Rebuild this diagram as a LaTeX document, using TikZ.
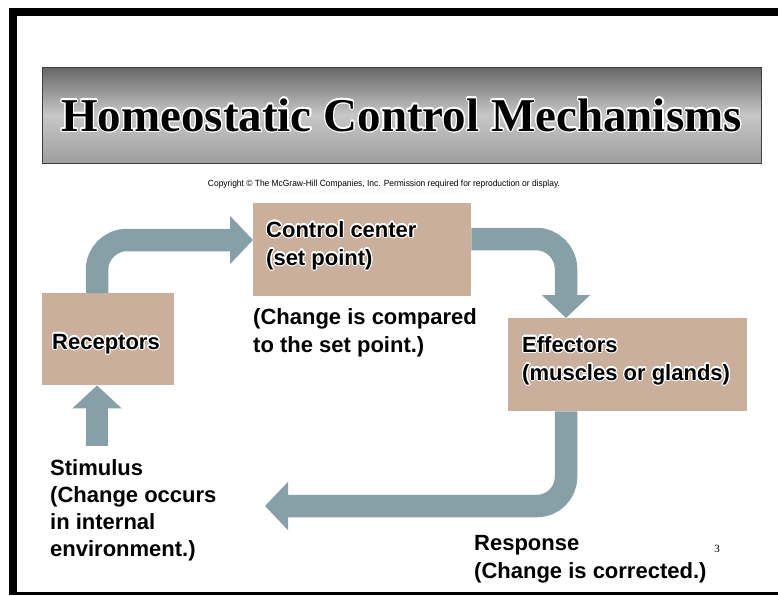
\documentclass[tikz,border=0pt]{standalone}
\usepackage{fontspec}
\setmainfont{Liberation Sans}
\newfontfamily\titlefont{Liberation Serif}
\usepackage{contour}
\contourlength{1.1pt}
\contournumber{24}
\usetikzlibrary{arrows.meta,calc}
\definecolor{boxtan}{HTML}{C9AF9C}
\definecolor{flowc}{HTML}{87A0A8}
\newcommand\mylines[1]{\begin{tabular}[t]{@{}l@{}}#1\end{tabular}}
\tikzset{
  box/.style={fill=boxtan, draw=none, inner sep=0pt, anchor=north west},
  flow/.style={draw=flowc, line width=22.5pt, -{Triangle[length=23pt,width=47pt]}},
  lbl/.style={inner sep=0pt, anchor=base west, font=\bfseries\fontsize{22}{28}\selectfont},
  lblb/.style={inner sep=0pt, anchor=base west, font=\bfseries\fontsize{22}{27}\selectfont},
}
\begin{document}
\begin{tikzpicture}[x=1pt,y=-1pt]
\useasboundingbox (0,0) rectangle (778,595);
\fill[white] (0,0) rectangle (778,595);
% frame
\fill[black] (9,8) rectangle (778,16);
\fill[black] (9,8) rectangle (17,595);
\fill[black] (9,592) rectangle (778,595);
% banner
\node[draw=black!75, line width=0.8pt, inner sep=0pt, minimum width=719pt, minimum height=96pt,
      top color=black!60, bottom color=black!38, middle color=black!22] (banner) at (401.5,115) {};
\node[anchor=base, inner sep=0pt, font=\titlefont\bfseries\fontsize{47}{50}\selectfont] (title) at (401.5,131)
  {\contour{white}{Homeostatic Control Mechanisms}};
% copyright
\node[anchor=center, inner sep=0pt] (copy) at (384,184)
  {\resizebox{352pt}{6.5pt}{Copyright \textcopyright\ The McGraw-Hill Companies, Inc. Permission required for reproduction or display.}};
% boxes
\node[box, minimum width=218pt, minimum height=93pt] (ctrl) at (253,203) {};
\node[box, minimum width=132pt, minimum height=92pt] (rec) at (42,293) {};
\node[box, minimum width=239pt, minimum height=93pt] (eff) at (508,318) {};
% connectors
\coordinate (stim) at (97,446);
\coordinate (back) at (265,506);
\draw[flow, rounded corners=30pt] ($(rec.north west)+(55,0)$) |- ($(ctrl.north west)+(0,37)$);
\draw[flow, rounded corners=30pt] ($(ctrl.north east)+(0,36)$) -| ($(eff.north west)+(58,0)$);
\draw[flow, rounded corners=29pt] ($(eff.south west)+(58,0)$) |- (back);
\draw[flow, -{Triangle[length=23pt,width=48pt]}] (stim) -- (rec.south -| stim);
% texts
\node[lbl] (ctrltext) at (266,237) {\contour{white}{\mylines{Control center\\(set point)}}};
\node[lbl] (rectext) at (52,349) {\contour{white}{Receptors}};
\node[lbl] (efftext) at (522,352) {\contour{white}{\mylines{Effectors\\(muscles or glands)}}};
\node[lbl] (cmptext) at (253,324) {\mylines{(Change is compared\\to the set point.)}};
\node[lblb] (stimtext) at (50,475) {\mylines{Stimulus\\(Change occurs\\in internal\\environment.)}};
\node[lbl] (resptext) at (474,550) {\mylines{Response\\(Change is corrected.)}};
\node[anchor=base, inner sep=0pt, font=\titlefont\fontsize{11}{11}\selectfont] (pg) at (717,552) {3};
\end{tikzpicture}
\end{document}
